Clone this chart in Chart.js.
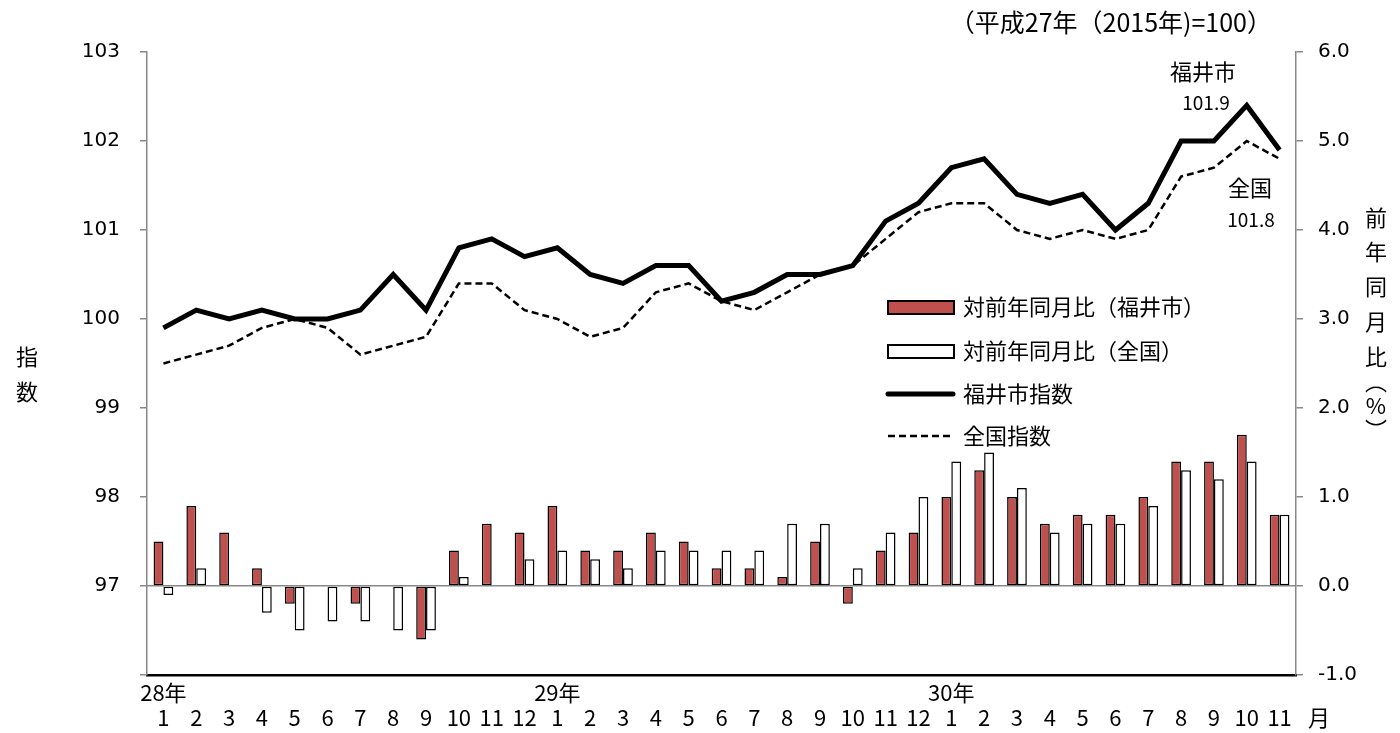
<!DOCTYPE html>
<html lang="ja">
<head>
<meta charset="utf-8">
<script src="https://cdn.jsdelivr.net/npm/chart.js@4/dist/chart.umd.min.js"></script>
<style>
body{margin:0;background:#fff;}
#wrap{width:1400px;height:733px;}
</style>
</head>
<body>
<div id="wrap"><canvas id="chart" width="1400" height="733"></canvas></div>
<script>
// 平成28年1月〜平成30年11月
const months = ["1","2","3","4","5","6","7","8","9","10","11","12",
                "1","2","3","4","5","6","7","8","9","10","11","12",
                "1","2","3","4","5","6","7","8","9","10","11"];
const yearLabels = ["28年","","","","","","","","","","","",
                    "29年","","","","","","","","","","","",
                    "30年","","","","","","","","","",""];

// 指数（左軸）
const fukuiIndex = [99.9,100.1,100.0,100.1,100.0,100.0,100.1,100.5,100.1,100.8,100.9,100.7,
                    100.8,100.5,100.4,100.6,100.6,100.2,100.3,100.5,100.5,100.6,101.1,101.3,
                    101.7,101.8,101.4,101.3,101.4,101.0,101.3,102.0,102.0,102.4,101.9];
const zenkokuIndex = [99.5,99.6,99.7,99.9,100.0,99.9,99.6,99.7,99.8,100.4,100.4,100.1,
                      100.0,99.8,99.9,100.3,100.4,100.2,100.1,100.3,100.5,100.6,100.9,101.2,
                      101.3,101.3,101.0,100.9,101.0,100.9,101.0,101.6,101.7,102.0,101.8];

// 対前年同月比（右軸, %）
const fukuiYoY = [0.5,0.9,0.6,0.2,-0.2,0.0,-0.2,0.0,-0.6,0.4,0.7,0.6,
                  0.9,0.4,0.4,0.6,0.5,0.2,0.2,0.1,0.5,-0.2,0.4,0.6,
                  1.0,1.3,1.0,0.7,0.8,0.8,1.0,1.4,1.4,1.7,0.8];
const zenkokuYoY = [-0.1,0.2,0.0,-0.3,-0.5,-0.4,-0.4,-0.5,-0.5,0.1,0.0,0.3,
                    0.4,0.3,0.2,0.4,0.4,0.4,0.4,0.7,0.7,0.2,0.6,1.0,
                    1.4,1.5,1.1,0.6,0.7,0.7,0.9,1.3,1.2,1.4,0.8];

const jp = '"Noto Sans CJK JP", "Noto Sans", sans-serif';
const num = '"DejaVu Sans", sans-serif';

const textPlugin = {
  id: "texts",
  afterDraw(chart){
    const ctx = chart.ctx;
    ctx.save();
    ctx.fillStyle = "#000";
    ctx.textBaseline = "middle";

    // 基準
    ctx.font = "25px " + jp;
    ctx.textAlign = "right";
    ctx.fillText("（平成27年（2015年)=100）", 1272, 22);

    // 軸タイトル
    ctx.textAlign = "center";
    ctx.font = "22px " + jp;
    ctx.fillText("指", 27, 357);
    ctx.fillText("数", 27, 392);
    const rt = [["前",218],["年",252],["同",287],["月",322],["比",357],["︵",382],["%",406],["︶",430]];
    rt.forEach(r => ctx.fillText(r[0], 1376, r[1]));
    ctx.fillText("月", 1319, 718);

    // 最新値
    ctx.fillText("福井市", 1203, 72);
    ctx.fillText("全国", 1250, 188);
    ctx.font = "19px " + jp;
    ctx.fillText("101.9", 1206, 103);
    ctx.fillText("101.8", 1251, 220);

    // 凡例
    const ds = chart.data.datasets;
    const rows = [307, 351, 394, 436];
    ctx.textAlign = "left";
    ctx.font = "22px " + jp;
    ds.forEach((d, i) => {
      const y = rows[i];
      if (d.type === "line") {
        ctx.beginPath();
        ctx.lineWidth = d.borderWidth;
        ctx.strokeStyle = d.borderColor;
        ctx.setLineDash(d.borderDash || []);
        ctx.lineCap = d.borderDash ? "butt" : "round";
        ctx.moveTo(888, y);
        ctx.lineTo(953, y);
        ctx.stroke();
        ctx.setLineDash([]);
      } else {
        ctx.fillStyle = d.backgroundColor;
        ctx.fillRect(888, y - 6, 66, 13);
        ctx.lineWidth = 2;
        ctx.strokeStyle = "#000";
        ctx.strokeRect(888, y - 6, 66, 13);
      }
      ctx.fillStyle = "#000";
      ctx.fillText(d.label, 963, y);
    });
    ctx.restore();
  }
};

new Chart(document.getElementById("chart"), {
  type: "bar",
  data: {
    labels: months,
    datasets: [
      {label:"対前年同月比（福井市）", data:fukuiYoY, yAxisID:"y2", backgroundColor:"#C0504D",
       borderColor:"#000", borderWidth:1.5, borderSkipped:false, order:2},
      {label:"対前年同月比（全国）", data:zenkokuYoY, yAxisID:"y2", backgroundColor:"#fff",
       borderColor:"#000", borderWidth:1.5, borderSkipped:false, order:2},
      {type:"line", label:"福井市指数", data:fukuiIndex, yAxisID:"y", borderColor:"#000",
       borderWidth:5, pointRadius:0, tension:0, order:0},
      {type:"line", label:"全国指数", data:zenkokuIndex, yAxisID:"y", borderColor:"#000",
       borderWidth:2.5, borderDash:[7,4], pointRadius:0, tension:0, order:1}
    ]
  },
  options: {
    responsive: false,
    devicePixelRatio: 1,
    animation: false,
    layout: {padding: {top: 52, left: 0, right: 0, bottom: 0}},
    datasets: {bar: {categoryPercentage: 0.6, barPercentage: 1.0}},
    plugins: {legend: {display: false}, tooltip: {enabled: false}},
    scales: {
      x: {
        grid: {display: false, drawTicks: false},
        border: {color: "#000", width: 2.5},
        ticks: {
          autoSkip: false, maxRotation: 0, padding: 5, color: "#000",
          font: {family: jp, size: 22, lineHeight: 1.15},
          callback: (v, i) => [yearLabels[i], months[i]]
        },
        afterFit: s => { s.height = 58; }
      },
      y: {
        position: "left", min: 96, max: 103,
        grid: {drawOnChartArea: false, color: "#888", lineWidth: 1.5, tickLength: 7},
        border: {color: "#888", width: 1.5},
        ticks: {stepSize: 1, padding: 20, color: "#000", font: {family: num, size: 20},
                callback: v => v === 96 ? "" : v},
        afterFit: s => { s.width = 147; }
      },
      y2: {
        position: "right", min: -1, max: 6,
        grid: {drawOnChartArea: true, lineWidth: 1.5, tickLength: 7, tickColor: "#888",
               color: c => c.tick && c.tick.value === 0 ? "#888" : "rgba(0,0,0,0)"},
        border: {color: "#888", width: 1.5},
        ticks: {stepSize: 1, padding: 15, color: "#000", font: {family: num, size: 20},
                callback: v => v.toFixed(1)},
        afterFit: s => { s.width = 104; }
      }
    }
  },
  plugins: [textPlugin]
});
</script>
</body>
</html>
